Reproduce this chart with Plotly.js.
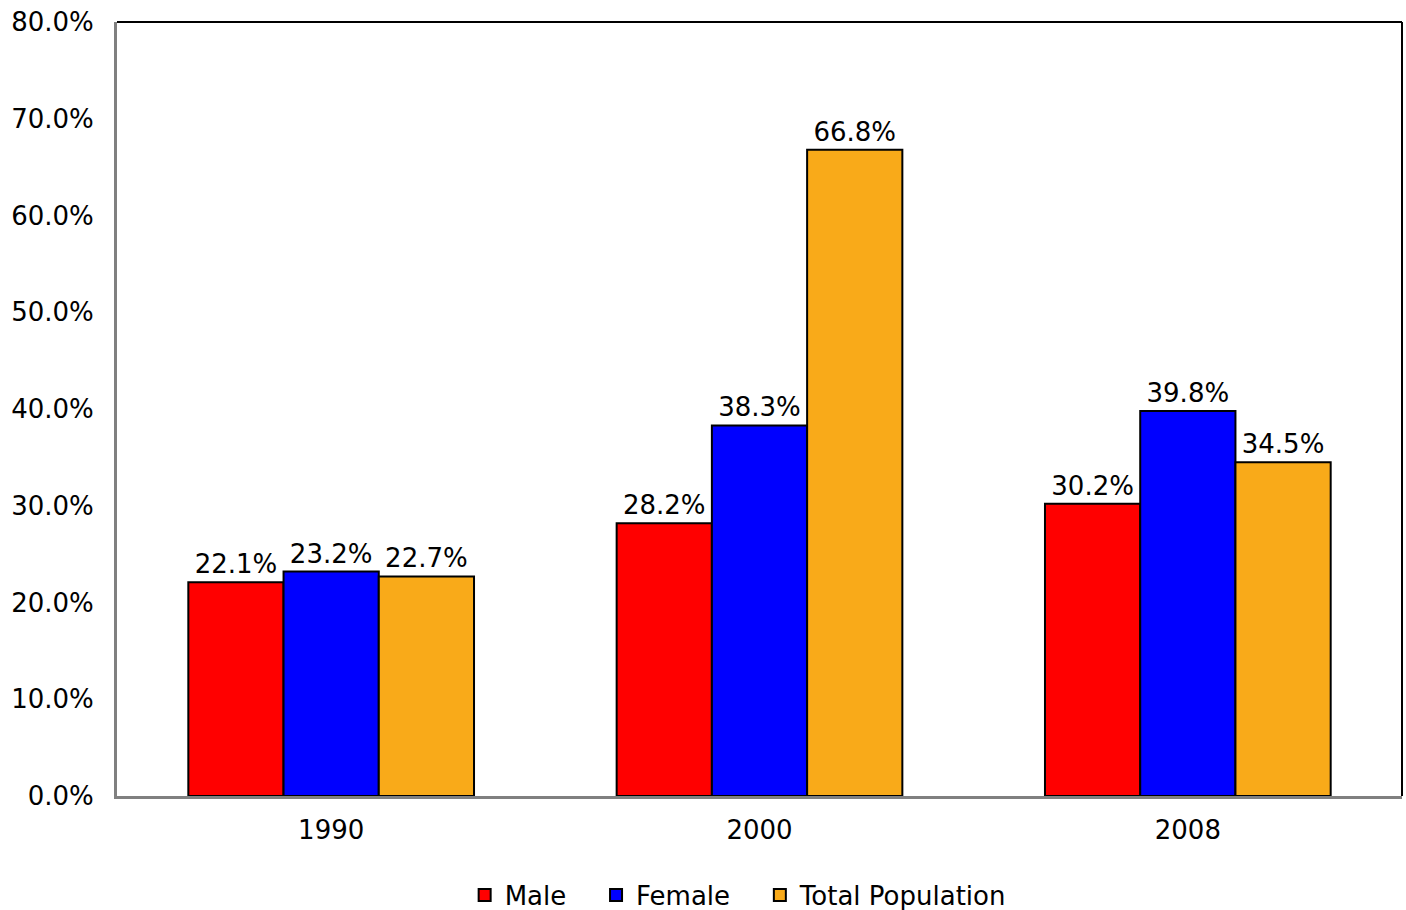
<!DOCTYPE html>
<html>
<head>
<meta charset="utf-8">
<script src="https://cdn.plot.ly/plotly-3.0.1.min.js"></script>
<style>
  html, body { margin: 0; padding: 0; background: #fff; }
  #chart { width: 1406px; height: 910px; }
</style>
</head>
<body>
<div id="chart"></div>
<script>
const categories = ["1990", "2000", "2008"];
const seriesNames = ["Male", "Female", "Total Population"];
const maleValues = [22.1, 28.2, 30.2];
const femaleValues = [23.2, 38.3, 39.8];
const totalValues = [22.7, 66.8, 34.5];
const seriesColors = ["#FF0000", "#0000FF", "#F9AA19"];
const yTickValues = [0, 10, 20, 30, 40, 50, 60, 70, 80];
const yTickLabels = ["0.0%", "10.0%", "20.0%", "30.0%", "40.0%", "50.0%", "60.0%", "70.0%", "80.0%"];

const FONT = "DejaVu Sans, Verdana, sans-serif";
const FS = 26;
const allValues = [maleValues, femaleValues, totalValues];
const nbsp = "\u00a0\u00a0\u00a0";

const traces = allValues.map((vals, i) => ({
  type: "bar",
  name: seriesNames[i] + (i < 2 ? nbsp : ""),
  x: categories,
  y: vals,
  text: vals.map(v => v.toFixed(1) + "%"),
  textposition: "outside",
  textfont: { family: FONT, size: FS, color: "#000" },
  cliponaxis: false,
  marker: { color: seriesColors[i], line: { color: "#000", width: 2 } },
  hoverinfo: "x+y"
}));

const layout = {
  width: 1406,
  height: 910,
  margin: { l: 117, r: 4, t: 22, b: 114 },
  paper_bgcolor: "#fff",
  plot_bgcolor: "#fff",
  font: { family: FONT, size: FS, color: "#000" },
  barmode: "group",
  bargap: 0.333,
  bargroupgap: 0,
  showlegend: true,
  legend: {
    orientation: "h",
    xref: "container",
    yref: "container",
    x: 0.525,
    xanchor: "center",
    y: 0.0165,
    yanchor: "middle",
    font: { family: FONT, size: FS, color: "#000" },
    traceorder: "normal"
  },
  xaxis: {
    type: "category",
    showline: true,
    linecolor: "#808080",
    linewidth: 3,
    showgrid: false,
    zeroline: false,
    ticks: "",
    ticklabelstandoff: 9,
    tickfont: { family: FONT, size: FS, color: "#000" }
  },
  yaxis: {
    range: [0, 80],
    tickmode: "array",
    tickvals: yTickValues,
    ticktext: yTickLabels,
    showline: true,
    linecolor: "#808080",
    linewidth: 3,
    showgrid: false,
    zeroline: false,
    ticks: "",
    ticklabelstandoff: 15,
    tickfont: { family: FONT, size: FS, color: "#000" }
  },
  shapes: [
    { type: "line", xref: "paper", yref: "paper", x0: 0, x1: 1, y0: 1, y1: 1, line: { color: "#000", width: 2 } },
    { type: "line", xref: "paper", yref: "paper", x0: 1, x1: 1, y0: 0, y1: 1, line: { color: "#000", width: 2 } }
  ]
};

Plotly.newPlot("chart", traces, layout, { displayModeBar: false, staticPlot: true });
</script>
</body>
</html>
